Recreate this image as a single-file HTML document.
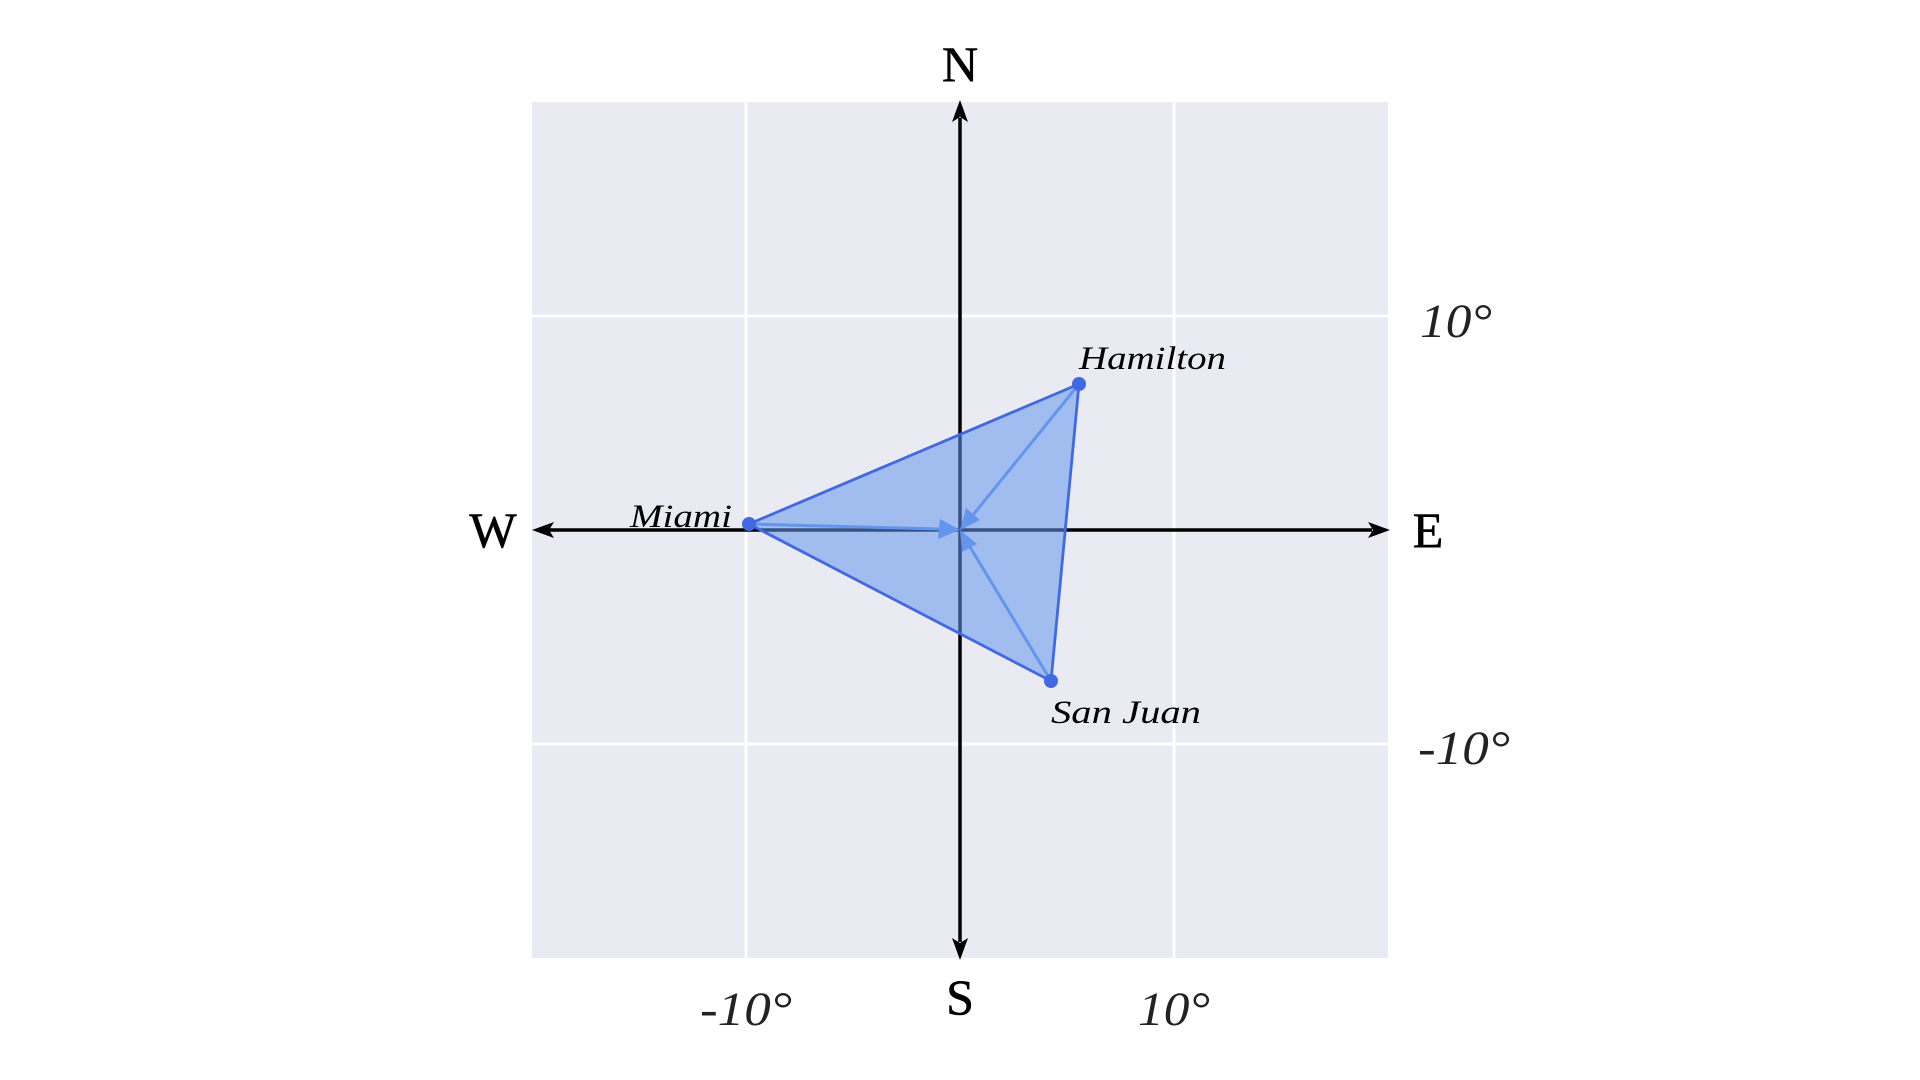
<!DOCTYPE html>
<html><head><meta charset="utf-8"><style>html,body{margin:0;padding:0;background:#fff}svg{display:block}</style></head>
<body>
<svg width="1920" height="1080" viewBox="0 0 1920 1080" xmlns="http://www.w3.org/2000/svg">
<rect x="532" y="102" width="856" height="856" fill="#eaeaf2"/>
<g stroke="#fff" stroke-width="3">
<line x1="746" y1="102" x2="746" y2="958"/>
<line x1="1174" y1="102" x2="1174" y2="958"/>
<line x1="532" y1="316" x2="1388" y2="316"/>
<line x1="532" y1="744" x2="1388" y2="744"/>
</g>
<g stroke="#000" stroke-width="3.5">
<line x1="548" y1="530" x2="1372" y2="530"/>
<line x1="960" y1="118" x2="960" y2="942"/>
</g>
<g fill="#000">
<polygon points="532,530 554,522 549,530 554,538"/>
<polygon points="1390,530 1368,522 1373,530 1368,538"/>
<polygon points="960,100 952,122 960,117 968,122"/>
<polygon points="960,960 952,938 960,943 968,938"/>
</g>
<polygon points="1079,384 749,524 1051,681" fill="rgba(100,149,237,0.55)" stroke="#4169e1" stroke-width="2.8" stroke-linejoin="round"/>
<g stroke="#6495ed" stroke-width="3">
<line x1="749" y1="524" x2="940" y2="529"/>
<line x1="1079" y1="384" x2="973" y2="515"/>
<line x1="1051" y1="681" x2="970" y2="547"/>
</g>
<g fill="#6495ed">
<polygon points="960,530 938,539 940,519"/>
<polygon points="960,530 966,508 980,520"/>
<polygon points="960,530 977,544 962,552"/>
</g>
<g fill="#4169e1">
<circle cx="1079" cy="384" r="7"/>
<circle cx="749" cy="524" r="7"/>
<circle cx="1051" cy="681" r="7"/>
</g>
<g font-family="'Liberation Serif', serif" fill="#000">
<text x="960" y="81" font-size="50" text-anchor="middle" stroke="#000" stroke-width="0.6">N</text>
<text x="960" y="1014" font-size="50" text-anchor="middle" stroke="#000" stroke-width="0.6">S</text>
<text x="493" y="547" font-size="50" text-anchor="middle" stroke="#000" stroke-width="0.6">W</text>
<text x="1428" y="547" font-size="50" text-anchor="middle" stroke="#000" stroke-width="0.6">E</text>
<g font-style="italic" font-size="33">
<text x="1079" y="369" textLength="147" lengthAdjust="spacingAndGlyphs">Hamilton</text>
<text x="732" y="527" text-anchor="end" textLength="102" lengthAdjust="spacingAndGlyphs">Miami</text>
<text x="1051" y="723" textLength="150" lengthAdjust="spacingAndGlyphs">San Juan</text>
</g>
<g font-style="italic" font-size="48" fill="#222">
<text x="1420" y="337" textLength="72" lengthAdjust="spacingAndGlyphs">10°</text>
<text x="1418" y="764" textLength="92" lengthAdjust="spacingAndGlyphs">-10°</text>
<text x="700" y="1025" textLength="92" lengthAdjust="spacingAndGlyphs">-10°</text>
<text x="1138" y="1025" textLength="72" lengthAdjust="spacingAndGlyphs">10°</text>
</g>
</g>
</svg>
</body></html>
